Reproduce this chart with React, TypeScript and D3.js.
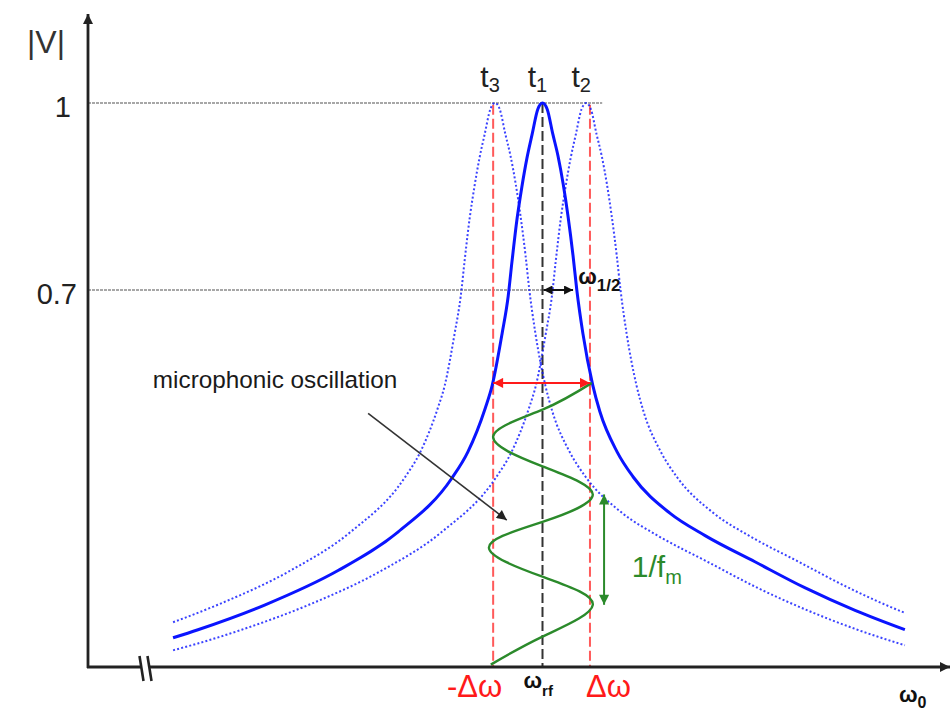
import React from 'react';
import * as d3 from 'd3';

// ---------- data (detuning in units, amplitude |V|) ----------
// t1: resonance at omega_rf
const mainDetuning = [-7.86, -7.33, -5.9, -4.35, -3.07, -1.93, -1.59, -1.22, -1.07, -0.86, -0.73, -0.65, -0.54, -0.44, -0.33, -0.22, -0.1, 0, 0.1, 0.22, 0.33, 0.44, 0.54, 0.65, 0.73, 0.86, 1.07, 1.22, 1.59, 1.93, 2.71, 3.46, 4.52, 5.59, 6.65, 7.71];
const mainAmp = [0.142, 0.155, 0.195, 0.25, 0.312, 0.398, 0.44, 0.51, 0.547, 0.63, 0.69, 0.745, 0.815, 0.865, 0.912, 0.95, 0.99, 1.0, 0.99, 0.95, 0.915, 0.87, 0.82, 0.755, 0.7, 0.63, 0.547, 0.505, 0.44, 0.4, 0.342, 0.306, 0.264, 0.222, 0.186, 0.155];

// t2: resonance detuned upward
const t2Detuning = [-7.86, -7.33, -6.4, -4.97, -3.42, -2.14, -1.0, -0.66, -0.29, -0.14, 0.07, 0.2, 0.28, 0.39, 0.49, 0.6, 0.71, 0.83, 0.93, 1.03, 1.15, 1.26, 1.37, 1.47, 1.58, 1.66, 1.79, 2.0, 2.15, 2.52, 2.86, 3.64, 4.39, 5.45, 6.52, 7.58, 7.71];
const t2Amp = [0.122, 0.133, 0.155, 0.195, 0.25, 0.312, 0.398, 0.44, 0.51, 0.547, 0.63, 0.69, 0.745, 0.815, 0.865, 0.912, 0.95, 0.99, 1.0, 0.99, 0.95, 0.915, 0.87, 0.82, 0.755, 0.7, 0.63, 0.547, 0.505, 0.44, 0.4, 0.342, 0.306, 0.264, 0.222, 0.186, 0.182];

// t3: resonance detuned downward
const t3Detuning = [-7.86, -6.91, -5.36, -4.08, -2.94, -2.6, -2.23, -2.08, -1.87, -1.74, -1.66, -1.55, -1.45, -1.34, -1.23, -1.11, -1.01, -0.91, -0.79, -0.68, -0.57, -0.47, -0.36, -0.28, -0.15, 0.06, 0.21, 0.58, 0.92, 1.7, 2.45, 3.51, 4.58, 5.64, 6.7, 7.71];
const t3Amp = [0.167, 0.195, 0.25, 0.312, 0.398, 0.44, 0.51, 0.547, 0.63, 0.69, 0.745, 0.815, 0.865, 0.912, 0.95, 0.99, 1.0, 0.99, 0.95, 0.915, 0.87, 0.82, 0.755, 0.7, 0.63, 0.547, 0.505, 0.44, 0.4, 0.342, 0.306, 0.264, 0.222, 0.186, 0.155, 0.13];

// microphonic oscillation (detuning vs vertical position in |V| units)
const oscDetuning = [-1.1, 0, 1.07, 0, -1.14, 0, 1.07, 0, -1.05, 0, 1.05];
const oscLevel = [0.099, 0.144, 0.195, 0.24, 0.287, 0.328, 0.372, 0.417, 0.465, 0.508, 0.551];

const yTickValues = [1, 0.7];
const yTickLabels = ['1', '0.7'];
const peakDetuning = [-1.01, 0, 0.93];
const peakLabels = ['3', '1', '2'];
const deltaLines = [-1.05, 1.01];

const W = 952;
const H = 711;

export default function App() {
  const x = d3.scaleLinear().domain([-9.67, 8.67]).range([88, 950]);
  const y = d3.scaleLinear().domain([0.7, 1]).range([290, 103]);
  const axisY = 667;
  const axisX = 88;

  const curve = d3
    .line<[number, number]>()
    .x((d) => x(d[0]))
    .y((d) => y(d[1]))
    .curve(d3.curveMonotoneX);
  const oscLine = d3
    .line<[number, number]>()
    .x((d) => x(d[0]))
    .y((d) => y(d[1]))
    .curve(d3.curveNatural);

  const mainPts = d3.zip(mainDetuning, mainAmp) as [number, number][];
  const t2Pts = d3.zip(t2Detuning, t2Amp) as [number, number][];
  const t3Pts = d3.zip(t3Detuning, t3Amp) as [number, number][];
  const oscPts = d3.zip(oscDetuning, oscLevel) as [number, number][];

  const font = 'Liberation Sans, Arial, sans-serif';
  const blue = '#0a14ff';
  const red = '#ff1a1a';
  const redDash = '#ff5a5a';
  const green = '#2b8a2b';
  const dark = '#222';

  const marker = (id: string, color: string, len: number, wid: number) => (
    <marker
      id={id}
      viewBox="0 0 10 10"
      refX={10}
      refY={5}
      markerUnits="userSpaceOnUse"
      markerWidth={len}
      markerHeight={wid}
      orient="auto-start-reverse"
    >
      <path d="M0,0 L10,5 L0,10 z" fill={color} />
    </marker>
  );

  const lvlRed = 0.551;

  return (
    <svg
      width={W}
      height={H}
      style={{ position: 'absolute', left: 0, top: 0, display: 'block', background: '#fff' }}
      fontFamily={font}
    >
      <defs>
        {marker('aRed', red, 12, 10)}
        {marker('aBlack', '#111', 10, 9)}
        {marker('aGreen', green, 11, 10)}
        {marker('aAxis', dark, 11, 10)}
        {marker('aThin', '#222', 12, 10)}
      </defs>
      <rect width={W} height={H} fill="#fff" />

      {/* horizontal reference lines */}
      <line x1={axisX} x2={x(1.27)} y1={y(1)} y2={y(1)} stroke="#8a8a8a" strokeWidth={1.6} strokeDasharray="3 1" />
      <line x1={axisX} x2={x(0.05)} y1={y(0.7)} y2={y(0.7)} stroke="#8a8a8a" strokeWidth={1.6} strokeDasharray="3 1" />

      {/* dashed vertical lines */}
      {deltaLines.map((d, i) => (
        <line key={i} x1={x(d)} x2={x(d)} y1={y(0.997)} y2={axisY} stroke={redDash} strokeWidth={2} strokeDasharray="10 4" />
      ))}
      <line x1={x(0)} x2={x(0)} y1={y(1)} y2={axisY} stroke="#333" strokeWidth={2} strokeDasharray="10 4" />

      {/* dotted shifted resonance curves */}
      <path d={curve(t3Pts) || ''} fill="none" stroke={blue} strokeWidth={2} strokeDasharray="2 2.2" opacity={0.8} />
      <path d={curve(t2Pts) || ''} fill="none" stroke={blue} strokeWidth={2} strokeDasharray="2 2.2" opacity={0.8} />

      {/* main resonance curve */}
      <path d={curve(mainPts) || ''} fill="none" stroke={blue} strokeWidth={3} />

      {/* microphonic oscillation */}
      <path d={oscLine(oscPts) || ''} fill="none" stroke={green} strokeWidth={2.4} />

      {/* red double arrow */}
      <line x1={x(deltaLines[0])} x2={x(deltaLines[1])} y1={y(lvlRed)} y2={y(lvlRed)} stroke={red} strokeWidth={2} markerStart="url(#aRed)" markerEnd="url(#aRed)" />

      {/* omega 1/2 arrow */}
      <line x1={x(0.02)} x2={x(0.65)} y1={y(0.7)} y2={y(0.7)} stroke="#111" strokeWidth={2} markerStart="url(#aBlack)" markerEnd="url(#aBlack)" />
      <text x={x(0.76)} y={y(0.7) - 6} fontSize={22} fontWeight="bold" fill="#111">
        ω<tspan fontSize={17} dy={7}>1/2</tspan>
      </text>

      {/* 1/fm arrow */}
      <line x1={x(1.31)} x2={x(1.31)} y1={y(0.372)} y2={y(0.195)} stroke={green} strokeWidth={2} markerStart="url(#aGreen)" markerEnd="url(#aGreen)" />
      <text x={x(1.9)} y={577} fontSize={30} fill={green}>
        1/f<tspan fontSize={20} dy={7}>m</tspan>
      </text>

      {/* microphonic oscillation label + arrow */}
      <text x={x(-8.29)} y={y(0.542)} fontSize={24.3} fill="#1a1a1a">
        microphonic oscillation
      </text>
      <line x1={x(-3.71)} y1={y(0.502)} x2={x(-0.76)} y2={y(0.331)} stroke="#333" strokeWidth={1.6} markerEnd="url(#aThin)" />

      {/* axes */}
      <line x1={axisX} x2={axisX} y1={axisY + 1} y2={14} stroke={dark} strokeWidth={2.8} markerEnd="url(#aAxis)" />
      <line x1={axisX - 1} x2={W - 2} y1={axisY} y2={axisY} stroke={dark} strokeWidth={2.8} markerEnd="url(#aAxis)" />
      {/* axis break */}
      <rect x={142} y={axisY - 3} width={7} height={6} fill="#fff" />
      <line x1={139.5} y1={656} x2={143.5} y2={681} stroke={dark} strokeWidth={2.6} />
      <line x1={147.5} y1={656} x2={151.5} y2={681} stroke={dark} strokeWidth={2.6} />

      {/* y axis label and ticks */}
      <text x={27} y={53} fontSize={32} fill="#333">|V|</text>
      {yTickValues.map((v, i) => (
        <text key={i} x={i === 0 ? 71 : 77} y={y(v) + 14} fontSize={29} textAnchor="end" fill="#222">
          {yTickLabels[i]}
        </text>
      ))}

      {/* peak labels */}
      {peakDetuning.map((d, i) => (
        <text key={i} x={x(d) - 5} y={87} fontSize={30} textAnchor="middle" fill="#222">
          t<tspan fontSize={20} dy={5}>{peakLabels[i]}</tspan>
        </text>
      ))}

      {/* x axis labels */}
      <text x={x(deltaLines[0]) + 9} y={697} fontSize={31} textAnchor="end" fill={red}>-Δω</text>
      <text x={x(deltaLines[1]) - 4} y={697} fontSize={31} fill={red}>Δω</text>
      <text x={x(0) - 19} y={688} fontSize={22} fill="#111" fontWeight="bold">
        ω<tspan fontSize={15} dy={8}>rf</tspan>
      </text>
      <text x={899} y={702} fontSize={22} fill="#111" fontWeight="bold">
        ω<tspan fontSize={16} dy={6}>0</tspan>
      </text>
    </svg>
  );
}
